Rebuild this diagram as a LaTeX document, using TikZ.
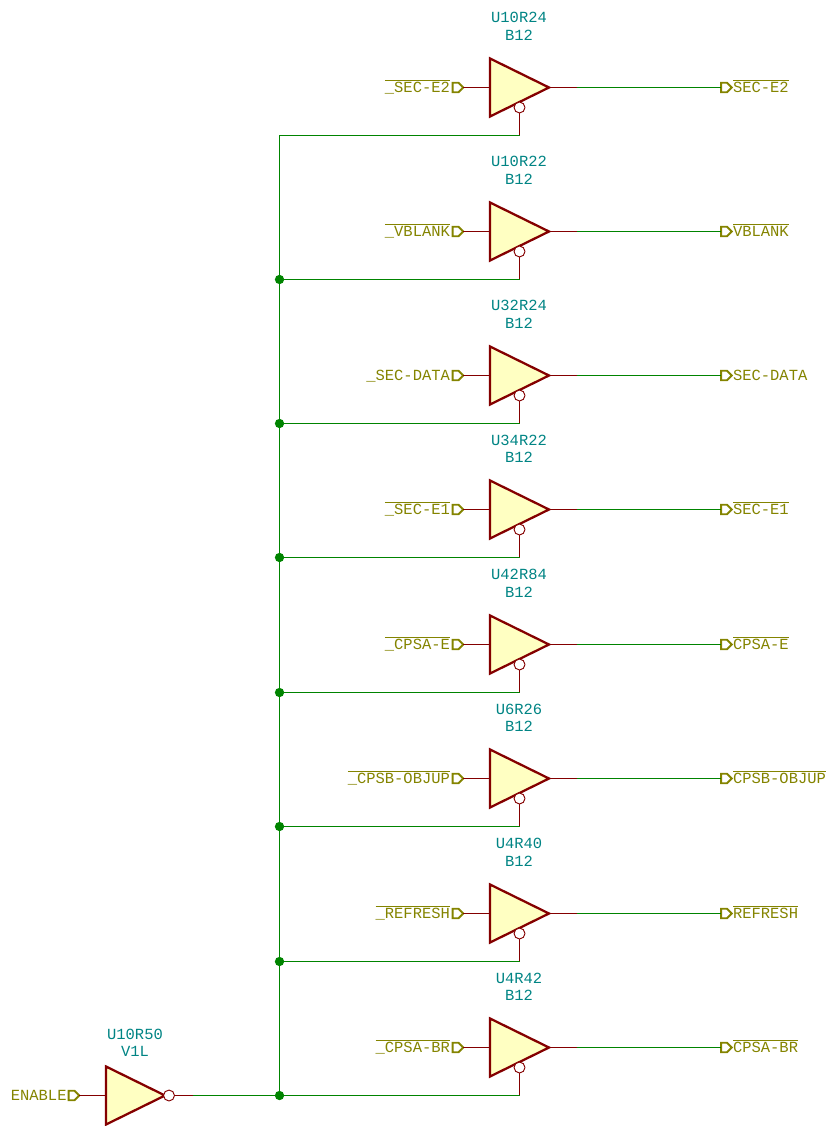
\documentclass[tikz,border=0pt]{standalone}
\usepackage{fontspec}
\setmonofont{Liberation Mono}
\usetikzlibrary{shapes.geometric,shapes.symbols,positioning}
\definecolor{schred}{HTML}{840000}
\definecolor{schgreen}{HTML}{008400}
\definecolor{schteal}{HTML}{008484}
\definecolor{scholive}{HTML}{848400}
\definecolor{schfill}{HTML}{FFFFC2}
\newcommand{\nbar}[1]{$\overline{\hbox{#1}}$}
\tikzset{
  buffer/.style={draw=schred,fill=schfill,line width=1.7pt,line join=miter,isosceles triangle,isosceles triangle stretches,
    minimum width=43.5pt,minimum height=44.25pt,inner sep=0pt,outer sep=0pt,anchor=lower side},
  bubble/.style={circle,draw=schred,fill=white,line width=.7pt,minimum size=8.2pt,inner sep=0pt,outer sep=0pt},
  flag/.style={signal,signal to=east,draw=scholive,line width=1.4pt,minimum width=8pt,minimum height=7.2pt,inner sep=0pt,outer sep=0pt},
  netname/.style={text=scholive,font=\ttfamily\fontsize{11.6}{13}\selectfont,text height=7.5pt,text depth=0pt,inner sep=0pt,outer sep=0pt},
  refname/.style={text=schteal,font=\ttfamily\fontsize{11.6}{13.1}\selectfont,align=center,inner sep=0pt},
  junction/.style={circle,fill=schgreen,minimum size=7pt,inner sep=0pt},
  wire/.style={draw=schgreen,line width=.85pt},
  pin/.style={draw=schred,line width=.85pt}
}
\begin{document}
\begin{tikzpicture}[x=0.75pt,y=-0.75pt]
\useasboundingbox (0,0) rectangle (832,1126);
% bus
\coordinate (top) at (279.5,135.5);
\node[junction] (j2) at (279.5,279.5) {};
\node[junction] (j3) at (279.5,423.5) {};
\node[junction] (j4) at (279.5,557.5) {};
\node[junction] (j5) at (279.5,692.5) {};
\node[junction] (j6) at (279.5,826.5) {};
\node[junction] (j7) at (279.5,961.5) {};
\node[junction] (j8) at (279.5,1095.5) {};
\draw[wire] (top) -- (j2) -- (j3) -- (j4) -- (j5) -- (j6) -- (j7) -- (j8);
% enable inverter
\node[buffer] (g0) at (106,1095.5) {};
\node[bubble] (b0) at (169,1095.5) {};
\node[refname] (r0) at (135,1043) {U10R50\\V1L};
\node[flag] (fi0) at (71.5,1095.5) {};
\node[netname,left=1.5pt of fi0] (ni0) {ENABLE};
\coordinate (s0) at (193,1095.5);
\draw[pin] (fi0.east) -- (g0.lower side);
\draw[pin] (b0) -- (s0);
\draw[wire] (s0) -- (j8);
% U10R24
\node[buffer] (g1) at (490,87.5) {};
\node[bubble] (b1) at (519.5,107.5) {};
\node[refname] (r1) at (519,26.5) {U10R24\\B12};
\node[flag] (fi1) at (455.5,87.5) {};
\node[netname,left=2pt of fi1] (ni1) {\nbar{\_SEC-E2}};
\node[flag] (fo1) at (724,87.5) {};
\node[netname,right=1pt of fo1] (no1) {\nbar{SEC-E2}};
\coordinate (s1) at (577,87.5);
\coordinate (k1) at (519.5,135.5);
\draw[pin] (fi1.east) -- (g1.lower side);
\draw[pin] (g1.apex) -- (s1);
\draw[wire] (s1) -- (fo1.west);
\draw[pin] (b1) -- (k1);
\draw[wire] (k1) -- (top);
% U10R22
\node[buffer] (g2) at (490,231.5) {};
\node[bubble] (b2) at (519.5,251.5) {};
\node[refname] (r2) at (519,170.5) {U10R22\\B12};
\node[flag] (fi2) at (455.5,231.5) {};
\node[netname,left=2pt of fi2] (ni2) {\nbar{\_VBLANK}};
\node[flag] (fo2) at (724,231.5) {};
\node[netname,right=1pt of fo2] (no2) {\nbar{VBLANK}};
\coordinate (s2) at (577,231.5);
\coordinate (k2) at (519.5,279.5);
\draw[pin] (fi2.east) -- (g2.lower side);
\draw[pin] (g2.apex) -- (s2);
\draw[wire] (s2) -- (fo2.west);
\draw[pin] (b2) -- (k2);
\draw[wire] (k2) -- (j2);
% U32R24
\node[buffer] (g3) at (490,375.5) {};
\node[bubble] (b3) at (519.5,395.5) {};
\node[refname] (r3) at (519,314.5) {U32R24\\B12};
\node[flag] (fi3) at (455.5,375.5) {};
\node[netname,left=2pt of fi3] (ni3) {\_SEC-DATA};
\node[flag] (fo3) at (724,375.5) {};
\node[netname,right=1pt of fo3] (no3) {SEC-DATA};
\coordinate (s3) at (577,375.5);
\coordinate (k3) at (519.5,423.5);
\draw[pin] (fi3.east) -- (g3.lower side);
\draw[pin] (g3.apex) -- (s3);
\draw[wire] (s3) -- (fo3.west);
\draw[pin] (b3) -- (k3);
\draw[wire] (k3) -- (j3);
% U34R22
\node[buffer] (g4) at (490,509.5) {};
\node[bubble] (b4) at (519.5,529.5) {};
\node[refname] (r4) at (519,449) {U34R22\\B12};
\node[flag] (fi4) at (455.5,509.5) {};
\node[netname,left=2pt of fi4] (ni4) {\nbar{\_SEC-E1}};
\node[flag] (fo4) at (724,509.5) {};
\node[netname,right=1pt of fo4] (no4) {\nbar{SEC-E1}};
\coordinate (s4) at (577,509.5);
\coordinate (k4) at (519.5,557.5);
\draw[pin] (fi4.east) -- (g4.lower side);
\draw[pin] (g4.apex) -- (s4);
\draw[wire] (s4) -- (fo4.west);
\draw[pin] (b4) -- (k4);
\draw[wire] (k4) -- (j4);
% U42R84
\node[buffer] (g5) at (490,644.5) {};
\node[bubble] (b5) at (519.5,664.5) {};
\node[refname] (r5) at (519,583.5) {U42R84\\B12};
\node[flag] (fi5) at (455.5,644.5) {};
\node[netname,left=2pt of fi5] (ni5) {\nbar{\_CPSA-E}};
\node[flag] (fo5) at (724,644.5) {};
\node[netname,right=1pt of fo5] (no5) {\nbar{CPSA-E}};
\coordinate (s5) at (577,644.5);
\coordinate (k5) at (519.5,692.5);
\draw[pin] (fi5.east) -- (g5.lower side);
\draw[pin] (g5.apex) -- (s5);
\draw[wire] (s5) -- (fo5.west);
\draw[pin] (b5) -- (k5);
\draw[wire] (k5) -- (j5);
% U6R26
\node[buffer] (g6) at (490,778.5) {};
\node[bubble] (b6) at (519.5,798.5) {};
\node[refname] (r6) at (519,718) {U6R26\\B12};
\node[flag] (fi6) at (455.5,778.5) {};
\node[netname,left=2pt of fi6] (ni6) {\nbar{\_CPSB-OBJUP}};
\node[flag] (fo6) at (724,778.5) {};
\node[netname,right=1pt of fo6] (no6) {\nbar{CPSB-OBJUP}};
\coordinate (s6) at (577,778.5);
\coordinate (k6) at (519.5,826.5);
\draw[pin] (fi6.east) -- (g6.lower side);
\draw[pin] (g6.apex) -- (s6);
\draw[wire] (s6) -- (fo6.west);
\draw[pin] (b6) -- (k6);
\draw[wire] (k6) -- (j6);
% U4R40
\node[buffer] (g7) at (490,913.5) {};
\node[bubble] (b7) at (519.5,933.5) {};
\node[refname] (r7) at (519,852.5) {U4R40\\B12};
\node[flag] (fi7) at (455.5,913.5) {};
\node[netname,left=2pt of fi7] (ni7) {\nbar{\_REFRESH}};
\node[flag] (fo7) at (724,913.5) {};
\node[netname,right=1pt of fo7] (no7) {\nbar{REFRESH}};
\coordinate (s7) at (577,913.5);
\coordinate (k7) at (519.5,961.5);
\draw[pin] (fi7.east) -- (g7.lower side);
\draw[pin] (g7.apex) -- (s7);
\draw[wire] (s7) -- (fo7.west);
\draw[pin] (b7) -- (k7);
\draw[wire] (k7) -- (j7);
% U4R42
\node[buffer] (g8) at (490,1047.5) {};
\node[bubble] (b8) at (519.5,1067.5) {};
\node[refname] (r8) at (519,987) {U4R42\\B12};
\node[flag] (fi8) at (455.5,1047.5) {};
\node[netname,left=2pt of fi8] (ni8) {\nbar{\_CPSA-BR}};
\node[flag] (fo8) at (724,1047.5) {};
\node[netname,right=1pt of fo8] (no8) {\nbar{CPSA-BR}};
\coordinate (s8) at (577,1047.5);
\coordinate (k8) at (519.5,1095.5);
\draw[pin] (fi8.east) -- (g8.lower side);
\draw[pin] (g8.apex) -- (s8);
\draw[wire] (s8) -- (fo8.west);
\draw[pin] (b8) -- (k8);
\draw[wire] (k8) -- (j8);
\end{tikzpicture}
\end{document}
